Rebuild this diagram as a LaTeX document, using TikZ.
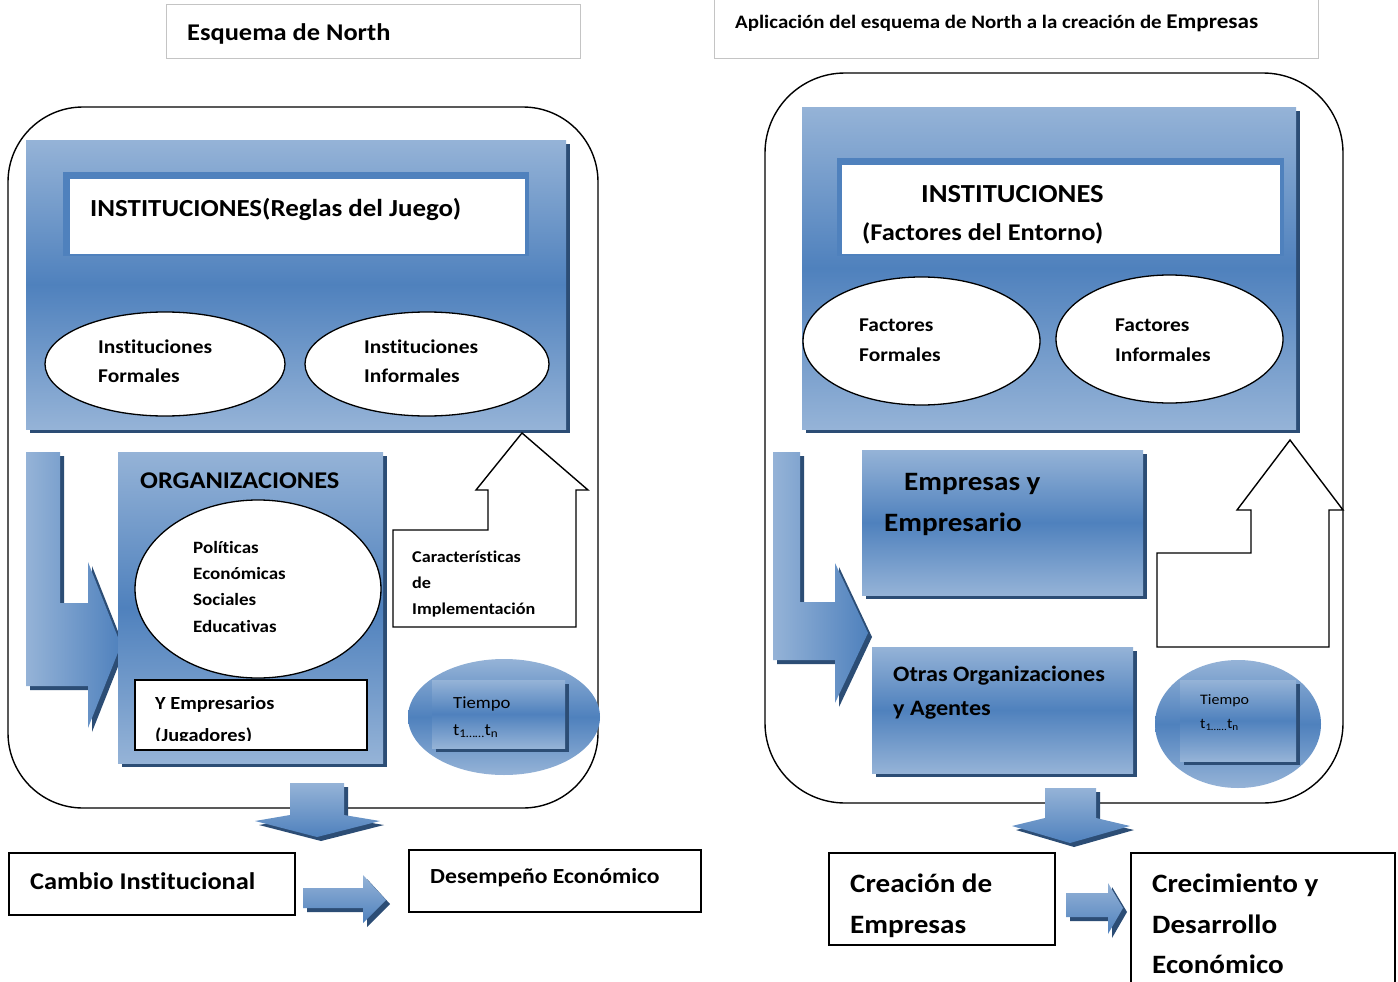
\documentclass[tikz,border=0pt]{standalone}
\usepackage{fontspec}
\setmainfont{Carlito}[Ligatures=NoCommon, FakeStretch=1.1]
\usetikzlibrary{shapes.geometric,shadows}
\definecolor{lb}{HTML}{95B3D7}
\definecolor{mb}{HTML}{4F81BD}
\definecolor{db}{HTML}{2C4D75}
\definecolor{hg}{HTML}{C4C4C4}
\tikzset{
  fb/.style={font=\fontsize{#1}{#1}\selectfont\bfseries},
  fr/.style={font=\fontsize{#1}{#1}\selectfont},
  lbl/.style={anchor=base west, inner sep=0pt},
  rbox/.style={rectangle, inner sep=0pt},
  dshadow/.style={drop shadow={shadow xshift=4pt, shadow yshift=-4pt, fill=db, opacity=1}},
  bluebox/.style={rbox, top color=lb, bottom color=lb, middle color=mb, draw=none, dshadow},
  whitebox/.style={rbox, fill=white, draw=black, line width=1.4pt},
  hdrbox/.style={rbox, fill=white, draw=hg, line width=0.9pt},
  oval/.style={ellipse, inner sep=0pt, fill=white, draw=black, line width=1.3pt},
  blueoval/.style={ellipse, inner sep=0pt, top color=lb, bottom color=lb, middle color=mb, draw=none},
  outer/.style={draw=black, line width=1.4pt},
  callout/.style={draw=black, fill=white, line width=1.4pt, line join=miter},
  blockarrow/.style={top color=lb, bottom color=mb, draw=none, dshadow},
  larrow/.style={left color=lb, right color=mb, draw=none, dshadow},
}
\begin{document}
\begin{tikzpicture}[x=1pt,y=-1pt]
\useasboundingbox[fill=white] (0,0) rectangle (1398,982);

% ---------------- headers
\node[hdrbox, minimum width=414, minimum height=54] (h1) at (373,31) {};
\node[lbl, fb=24] (h1t) at (187,41) {Esquema de North};
\node[hdrbox, minimum width=604, minimum height=62] (h2) at (1016,27) {};
\node[lbl, fb=19] (h2t) at (735,28.5) {Aplicación del esquema de North a la creación de {\fontsize{21}{21}\selectfont Empresas}};

% ================= LEFT =================
\draw[outer] (8,107) [rounded corners=75] rectangle (598,808);

% Instituciones box
\node[bluebox, minimum width=540, minimum height=289] (inst1) at (296,284.5) {};
\node[rbox, fill=mb, minimum width=466, minimum height=84] (rim1) at (296,214) {};
\node[rbox, fill=white, minimum width=455, minimum height=75] (wh1) at (297.5,216.5) {};
\node[lbl, fb=24.5] (inst1t) at (90,216) {INSTITUCIONES(Reglas del Juego)};
\node[oval, minimum width=240, minimum height=104] (ef1) at (165,364) {};
\node[oval, minimum width=244, minimum height=104] (ei1) at (427,364) {};
\node[lbl, fb=19.5] (ef1a) at (98,353) {Instituciones};
\node[lbl, fb=19.5] (ef1b) at (98,382) {Formales};
\node[lbl, fb=19.5] (ei1a) at (364,353) {Instituciones};
\node[lbl, fb=19.5] (ei1b) at (364,382) {Informales};

% L arrow
\shade[larrow] (26,452) -- (60,452) -- (60,603) -- (88,603) -- (88,562) -- (121,645) -- (88,728) -- (88,686) -- (26,686) -- cycle;

% Organizaciones
\node[bluebox, minimum width=265, minimum height=311] (org) at (250.5,607.5) {};
\node[lbl, fb=24] (orgt) at (140,488) {ORGANIZACIONES};
\node[oval, minimum width=246, minimum height=178] (orgel) at (258,589) {};
\node[lbl, fb=17.3] (o1) at (193,553) {Políticas};
\node[lbl, fb=17.3] (o2) at (193,579) {Económicas};
\node[lbl, fb=17.3] (o3) at (193,605) {Sociales};
\node[lbl, fb=17.3] (o4) at (193,632) {Educativas};
\node[whitebox, minimum width=232, minimum height=70] (jug) at (251,715) {};
\node[lbl, fb=18.5] (jug1) at (155,709) {Y Empresarios};
\begin{scope}
\clip (136,681) rectangle (366,740);
\node[lbl, fb=18.5] (jug2) at (155,741.5) {(Jugadores)};
\end{scope}

% Caracteristicas callout
\draw[callout] (393,530) -- (488,530) -- (488,490) -- (476,490) -- (522,433) -- (588,490) -- (576,490) -- (576,627) -- (393,627) -- cycle;
\node[lbl, fb=16.5] (c1) at (412,562) {Características};
\node[lbl, fb=16.5] (c2) at (412,588) {de};
\node[lbl, fb=16.5] (c3) at (412,614) {Implementación};

% Tiempo
\node[blueoval, minimum width=192, minimum height=116] (tel1) at (504,717) {};
\node[bluebox, minimum width=133, minimum height=68] (tr1) at (498.5,714) {};
\node[lbl, fr=17] (t1a) at (453,708) {Tiempo};
\node[lbl, fr=17] (t1b) at (453,735) {t\textsubscript{1……}t\textsubscript{n}};

% down arrow
\shade[blockarrow] (290,783) -- (344,783) -- (344,815) -- (380,821) -- (317,837) -- (255,821) -- (290,815) -- cycle;

% bottom
\node[whitebox, minimum width=286, minimum height=62] (cambio) at (152,884) {};
\node[lbl, fb=24] (cambiot) at (30,889) {Cambio Institucional};
\shade[blockarrow] (303,888) -- (363,888) -- (363,875) -- (386,900) -- (363,923) -- (363,908) -- (303,908) -- cycle;
\node[whitebox, minimum width=292, minimum height=62] (desemp) at (555,881) {};
\node[lbl, fb=21.5] (desempt) at (430,883) {Desempeño Económico};

% ================= RIGHT =================
\draw[outer] (765,73) [rounded corners=80] rectangle (1343,803);

\node[bluebox, minimum width=494, minimum height=322] (inst2) at (1049,268) {};
\node[rbox, fill=mb, minimum width=447, minimum height=98] (rim2) at (1060.5,207) {};
\node[rbox, fill=white, minimum width=438, minimum height=89] (wh2) at (1061,209.5) {};
\node[lbl, fb=26] (inst2a) at (921,202) {INSTITUCIONES};
\node[lbl, fb=24] (inst2b) at (862,240.5) {(Factores del Entorno)};
\node[oval, minimum width=237, minimum height=128] (ef2) at (921.5,341) {};
\node[oval, minimum width=227, minimum height=128] (ei2) at (1169.5,339) {};
\node[lbl, fb=19.5] (ef2a) at (859,331) {Factores};
\node[lbl, fb=19.5] (ef2b) at (859,361) {Formales};
\node[lbl, fb=19.5] (ei2a) at (1115,331) {Factores};
\node[lbl, fb=19.5] (ei2b) at (1115,361) {Informales};

% L arrow
\shade[larrow] (773,452) -- (800,452) -- (800,602) -- (835,602) -- (835,563) -- (868,633) -- (835,703) -- (835,660) -- (773,660) -- cycle;

\node[bluebox, minimum width=281, minimum height=145] (emp) at (1002.5,522.5) {};
\node[lbl, fb=26.5] (emp1) at (904,490) {Empresas y};
\node[lbl, fb=26.5] (emp2) at (884,531) {Empresario};
\node[bluebox, minimum width=261, minimum height=126] (otras) at (1002.5,710) {};
\node[lbl, fb=22] (ot1) at (893,681) {Otras Organizaciones};
\node[lbl, fb=22] (ot2) at (893,715) {y Agentes};

% callout right
\draw[callout] (1157,553) -- (1251,553) -- (1251,510) -- (1237,510) -- (1290,440) -- (1343,510) -- (1329,510) -- (1329,647) -- (1157,647) -- cycle;

% Tiempo right
\node[blueoval, minimum width=166, minimum height=128] (tel2) at (1238,724) {};
\node[bluebox, minimum width=116, minimum height=81] (tr2) at (1238,720.5) {};
\node[lbl, fr=14.5] (t2a) at (1200,704) {Tiempo};
\node[lbl, fr=14.5] (t2b) at (1200,728) {t\textsubscript{1……}t\textsubscript{n}};

% down arrow right
\shade[blockarrow] (1045,788) -- (1096,788) -- (1096,818) -- (1130,826) -- (1070,843) -- (1012,826) -- (1045,818) -- cycle;

% bottom right
\node[whitebox, minimum width=226, minimum height=92] (crea) at (942,899) {};
\node[lbl, fb=26.5] (crea1) at (850,892) {Creación de};
\node[lbl, fb=26.5] (crea2) at (850,933) {Empresas};
\shade[blockarrow] (1066,893) -- (1108,893) -- (1108,883) -- (1123,908) -- (1108,934) -- (1108,917) -- (1066,917) -- cycle;
\node[whitebox, minimum width=264, minimum height=136] (crec) at (1263,921) {};
\node[lbl, fb=26.5] (crec1) at (1152,892) {Crecimiento y};
\node[lbl, fb=26.5] (crec2) at (1152,933) {Desarrollo};
\node[lbl, fb=26.5] (crec3) at (1152,973) {Económico};
\end{tikzpicture}
\end{document}
